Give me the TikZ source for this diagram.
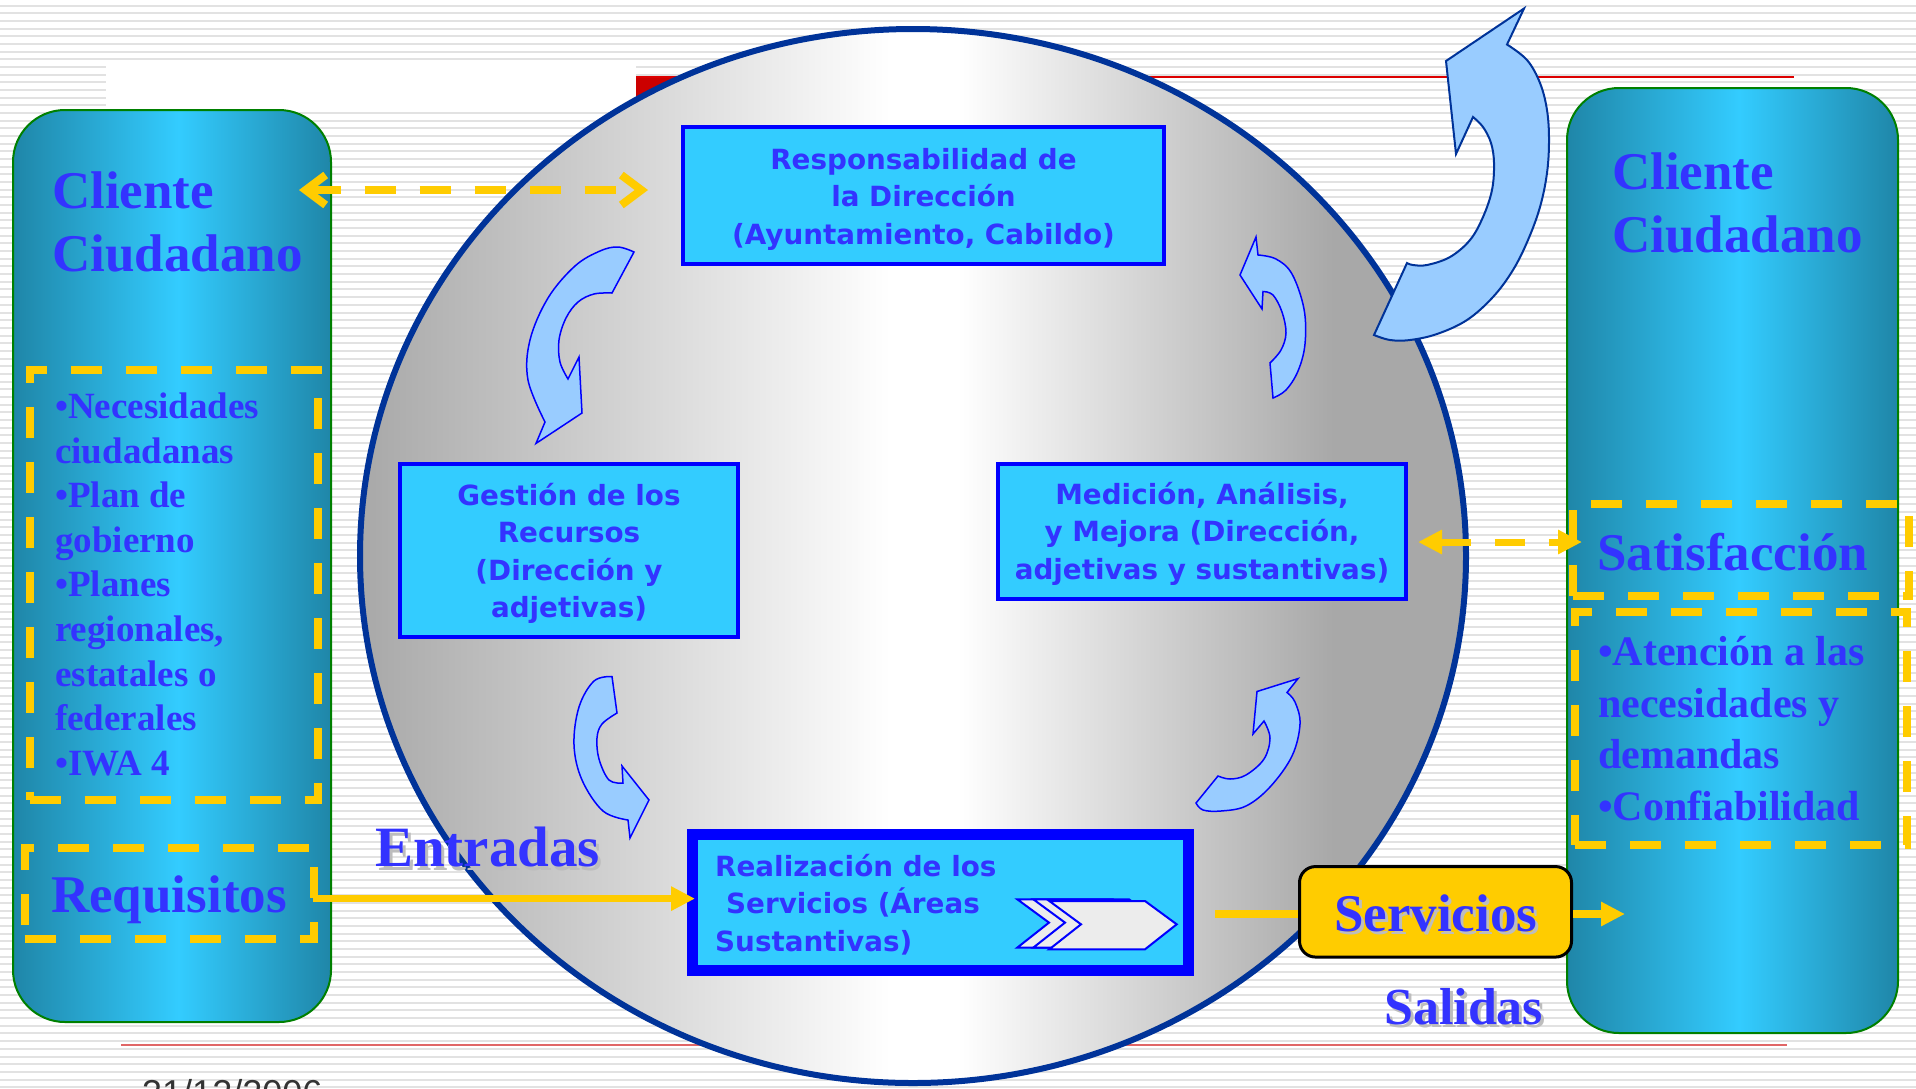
\documentclass[tikz,border=0pt]{standalone}
\usepackage{fontspec}
\setmainfont{Liberation Serif}
\newfontfamily\boxfont{DejaVu Sans}
\newfontfamily\datefont{Liberation Sans}
\usetikzlibrary{arrows.meta}
\definecolor{txtblue}{HTML}{3333FF}
\definecolor{boxfill}{HTML}{33CCFF}
\definecolor{boxline}{HTML}{0000FF}
\definecolor{ylw}{HTML}{FFCC00}
\definecolor{navy}{HTML}{003399}
\definecolor{coldark}{HTML}{1F86A8}
\definecolor{colbright}{HTML}{33CCFF}
\definecolor{colgreen}{HTML}{008000}
\definecolor{arrfill}{HTML}{99CCFF}
\definecolor{stripe}{HTML}{E2E2E2}
\definecolor{cgray}{HTML}{A8A8A8}
\definecolor{redline}{HTML}{DD0000}
\definecolor{redlight}{HTML}{E06666}
\definecolor{redblock}{HTML}{CC0000}
\definecolor{shadowgray}{HTML}{BDBDBD}
\definecolor{chevgray}{HTML}{ECECEC}
\definecolor{datecol}{HTML}{333333}
\pgfdeclarehorizontalshading{circshade}{100bp}{color(0bp)=(cgray); color(25bp)=(cgray); color(49bp)=(white); color(52bp)=(white); color(69bp)=(cgray); color(100bp)=(cgray)}
\pgfdeclarehorizontalshading{colshade}{100bp}{color(0bp)=(coldark); color(25bp)=(coldark); color(51bp)=(colbright); color(75bp)=(coldark); color(100bp)=(coldark)}
\tikzset{
  stripeline/.style={draw=stripe, line width=2pt},
  colbox/.style={shade, shading=colshade, draw=colgreen, line width=2pt, rounded corners=52pt, inner sep=0pt},
  procbox/.style={draw=boxline, fill=boxfill, line width=4pt, inner sep=0pt},
  boxtxt/.style={text=txtblue, font=\boxfont\bfseries\fontsize{27.8pt}{37.5pt}\selectfont, align=center, inner sep=0pt},
  bigtxt/.style={text=txtblue, font=\bfseries\fontsize{53pt}{63pt}\selectfont, align=left, inner sep=0pt},
  shadowtxt/.style={text=shadowgray, font=\bfseries\fontsize{53pt}{63pt}\selectfont, inner sep=0pt},
  dashbox/.style={draw=ylw, line width=8pt, dash pattern=on 31pt off 24pt, inner sep=0pt},
  yline/.style={draw=ylw, line width=7pt},
  curvarr/.style={fill=arrfill, draw=boxline, line width=1.5pt, line join=miter},
  bigarr/.style={fill=arrfill, draw=navy, line width=2pt, line join=miter},
  chev/.style={fill=chevgray, draw=boxline, line width=2pt, line join=miter},
  filltip/.tip={Triangle[length=24pt,width=23pt]},
  barbtip/.tip={Straight Barb[length=20pt,width=30pt]}
}
\begin{document}
\begin{tikzpicture}[x=1pt,y=-1pt]
\useasboundingbox (0,0) rectangle (1916,1088);
\fill[white] (0,0) rectangle (1916,1088);
\foreach \k in {0,...,141} \draw[stripeline] (0,5.7+7.67*\k) -- (1916,5.7+7.67*\k);
% template decorations
\fill[white] (106,60) rectangle (636,106);
\fill[redblock] (636,76) rectangle (720,104);
\draw[redline, line width=2pt] (636,77) -- (1794,77);
\draw[redlight, line width=2pt] (121,1044.5) -- (1787,1044.5);
\node[text=datecol, font=\datefont\fontsize{36pt}{40pt}\selectfont, anchor=base west, inner sep=0pt] (fecha) at (142,1105) {31/12/2006};
% big circle
\shadedraw[shading=circshade, draw=navy, line width=6pt] (913,556) ellipse [x radius=553, y radius=527];
% columns
\node[colbox, minimum width=318pt, minimum height=912pt] (lcol) at (172,566) {};
\node[colbox, minimum width=331pt, minimum height=945pt] (rcol) at (1732.5,560.5) {};
% process boxes
\node[procbox, minimum width=481pt, minimum height=137pt] (resp) at (923.5,195.5) {};
\node[procbox, minimum width=338pt, minimum height=173.5pt] (gest) at (569,550.25) {};
\node[procbox, minimum width=408pt, minimum height=135pt] (medi) at (1202,531) {};
\node[procbox, line width=11pt, minimum width=496pt, minimum height=136pt] (realiz) at (940,902) {};
% (multi-line nodes: anchor=base is the baseline of the last line)
\node[boxtxt, anchor=base] (resptxt) at (923.5,244) {Responsabilidad de\\la Dirección\\(Ayuntamiento, Cabildo)};
\node[boxtxt, anchor=base] (gesttxt) at (569,617.5) {Gestión de los\\Recursos\\(Dirección y\\adjetivas)};
\node[boxtxt, anchor=base] (meditxt) at (1202,579) {Medición, Análisis,\\y Mejora (Dirección,\\adjetivas y sustantivas)};
\node[boxtxt, align=left, anchor=base west] (realiztxt) at (715,951) {Realización de los\\\hspace*{11pt}Servicios (Áreas\\Sustantivas)};
% chevrons inside realization box
\foreach \dx/\dy [count=\i] in {-32/-1.7, -16/-1.7, 0/0}
  \filldraw[chev, shift={(\dx,\dy)}] (1049.3,901) -- (1145,901) -- (1176.7,924.3) -- (1145,949.3) -- (1049.3,949.3) -- (1081,924.3) -- cycle;
% servicios
\node[fill=ylw, draw=black, line width=3pt, rounded corners=16pt, minimum width=272pt, minimum height=90.5pt, inner sep=0pt] (serv) at (1435.5,911.8) {};
\node[shadowtxt, anchor=base] (servsh) at (1438.6,934) {Servicios};
\node[bigtxt, anchor=base] (servtxt) at (1435.6,931) {Servicios};
% column texts
\node[bigtxt, anchor=base west] (cliL) at (52,271) {Cliente\\Ciudadano};
\node[bigtxt, anchor=base west] (cliR) at (1612,252.6) {Cliente\\Ciudadano};
\node[bigtxt, font=\bfseries\fontsize{37pt}{44.6pt}\selectfont, anchor=base west] (needs) at (55,775.3) {•Necesidades\\ciudadanas\\•Plan de\\gobierno\\•Planes\\regionales,\\estatales o\\federales\\•IWA 4};
\node[bigtxt, font=\bfseries\fontsize{42pt}{51.5pt}\selectfont, anchor=base west] (atenc) at (1598,820) {•Atención a las\\necesidades y\\demandas\\•Confiabilidad};
\node[bigtxt, anchor=base west] (satis) at (1597,570) {Satisfacción};
\node[bigtxt, anchor=base west] (requi) at (51,912) {Requisitos};
\node[shadowtxt, font=\bfseries\fontsize{57pt}{63pt}\selectfont, anchor=base west] (entsh) at (378,870) {Entradas};
\node[bigtxt, font=\bfseries\fontsize{57pt}{63pt}\selectfont, anchor=base west] (entr) at (375,866.7) {Entradas};
\node[shadowtxt, font=\bfseries\fontsize{52pt}{63pt}\selectfont, anchor=base west] (salsh) at (1387,1027.6) {Salidas};
\node[bigtxt, font=\bfseries\fontsize{52pt}{63pt}\selectfont, anchor=base west] (sali) at (1384,1024.6) {Salidas};
% dashed boxes
\node[dashbox, minimum width=288.5pt, minimum height=430.5pt] (needsbox) at (173.75,584.75) {};
\node[dashbox, minimum width=289pt, minimum height=91pt] (requbox) at (169,893) {};
\node[dashbox, minimum width=336pt, minimum height=92pt] (satbox) at (1741,550) {};
\node[dashbox, minimum width=332pt, minimum height=233pt] (atbox) at (1741,728) {};
% connectors
\coordinate (topL) at (299,190);
\coordinate (topR) at (648,190);
\draw[draw=ylw, line width=8pt, dash pattern=on 31pt off 24pt, barbtip-barbtip] (topL) -- (topR);
\coordinate (satL) at (1418,542);
\coordinate (satR) at (1582,542);
\draw[draw=ylw, line width=7pt, dash pattern=on 30pt off 24pt, filltip-filltip] (satL) -- (satR);
\coordinate (reqout) at (313,898.6);
\coordinate (reqin) at (695,898.6);
\draw[yline, -filltip] (reqout) -- (reqin);
\coordinate (srvin) at (1215,914);
\coordinate (outtip) at (1625,914);
\draw[yline, line width=8pt] (srvin) -- (srvin -| serv.west);
\draw[yline, line width=8pt, -filltip] (srvin -| serv.east) -- (outtip);
% curved arrows
\filldraw[bigarr] (1524,8.5) -- (1446,61) -- (1456,154) -- (1473,117)
  -- plot[smooth, tension=0.6] coordinates {(1473,117) (1483,127) (1491,143) (1494,163) (1492,190) (1483,217) (1470,240) (1450,257) (1427,265) (1413,265) (1407,263)}
  -- (1374,335)
  -- plot[smooth, tension=0.6] coordinates {(1374,335) (1390,340) (1410,340) (1437,334) (1467,320) (1493,297) (1513,270) (1528,240) (1540,207) (1547,173) (1549,140) (1547,110) (1540,83) (1527,60) (1507,44.5)}
  -- cycle;
\filldraw[curvarr] (536,443.4) -- (582,413) -- (579,357) -- (568,379)
  -- plot[smooth, tension=0.6] coordinates {(568,379) (560,362) (559,340) (566,318) (578,302) (594,294) (612,293)}
  -- (634,252)
  -- plot[smooth, tension=0.6] coordinates {(634,252) (618,247) (600,251) (575,266) (548,298) (530,340) (528,380) (545,422)}
  -- cycle;
\filldraw[curvarr] (1256,237) -- (1240,275) -- (1262,309) -- (1263,291.5)
  -- plot[smooth, tension=0.6] coordinates {(1263,291.5) (1273,295) (1282,312) (1286,333) (1281,350) (1270,363)}
  -- (1273,398)
  -- plot[smooth, tension=0.6] coordinates {(1273,398) (1286,390) (1298,371) (1305,344) (1304,309) (1292,274) (1276,259) (1258,255)}
  -- cycle;
\filldraw[curvarr] (612,676.5)
  -- plot[smooth, tension=0.6] coordinates {(612,676.5) (594,681) (579,707) (574,745) (582,780) (603,811) (628,820)}
  -- (630,838) -- (649,800) -- (622,766) -- (623,783)
  -- plot[smooth, tension=0.6] coordinates {(623,783) (609,780) (599,759) (597,738) (602,724) (617,713)}
  -- cycle;
\filldraw[curvarr] (1298,678.6) -- (1257,691.5) -- (1253,734) -- (1264,721)
  -- plot[smooth, tension=0.6] coordinates {(1264,721) (1270,738) (1264,759) (1246,775) (1230,779) (1218,776)}
  -- (1196,803)
  -- plot[smooth, tension=0.6] coordinates {(1196,803) (1203,810) (1221,811) (1246,806) (1270,787) (1292,756) (1300,724) (1295,702) (1287,692.5)}
  -- cycle;
\end{tikzpicture}
\end{document}
